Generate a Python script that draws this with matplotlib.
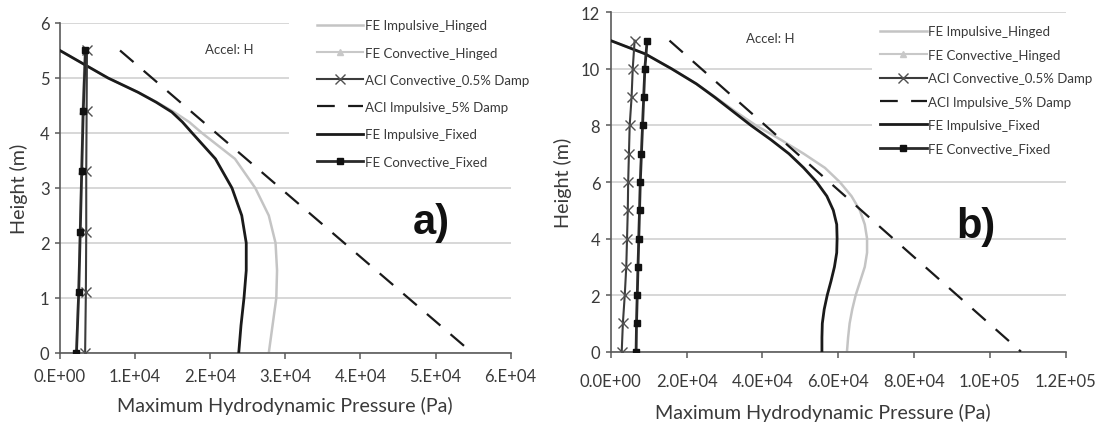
import matplotlib
matplotlib.use("Agg")
import matplotlib.pyplot as plt
from matplotlib.patches import Rectangle

plt.rcParams['font.family'] = ['Lato', 'DejaVu Sans']

# ---- panel a), tank height 5.5 m ----
a_h_imp = [5.5, 5.0, 4.74, 4.56, 4.38, 4.2, 4.0, 3.53, 3.0, 2.5, 2.0, 1.5, 1.0, 0.5, 0.0]
a_imp_fixed = [0, 6.4e3, 1.04e4, 1.28e4, 1.49e4, 1.63e4, 1.76e4, 2.07e4, 2.29e4, 2.42e4, 2.48e4, 2.48e4,
               2.45e4, 2.41e4, 2.38e4]
a_imp_hinged = [0, 6.4e3, 1.04e4, 1.29e4, 1.52e4, 1.72e4, 1.89e4, 2.33e4, 2.60e4, 2.78e4, 2.87e4, 2.89e4,
                2.88e4, 2.83e4, 2.78e4]
a_h_aci_imp = [5.5, 0.0]
a_aci_imp = [8.0e3, 5.49e4]
a_h_conv = [5.5, 4.4, 3.3, 2.2, 1.1, 0.0]
a_aci_conv = [3.6e3, 3.55e3, 3.5e3, 3.5e3, 3.45e3, 3.35e3]
a_conv_fixed = [3.4e3, 3.1e3, 2.9e3, 2.7e3, 2.5e3, 2.2e3]
a_conv_hinged = [3.3e3, 3.0e3, 2.85e3, 2.65e3, 2.45e3, 2.15e3]
a_xticks = [0, 1e4, 2e4, 3e4, 4e4, 5e4, 6e4]
a_xlabels = ["0.E+00", "1.E+04", "2.E+04", "3.E+04", "4.E+04", "5.E+04", "6.E+04"]
a_yticks = [0, 1, 2, 3, 4, 5, 6]

# ---- panel b), tank height 11 m ----
b_h_imp = [11, 10.53, 10, 9.47, 9, 8.5, 8, 7.5, 7, 6.5, 6, 5.5, 5, 4.5, 4,
           3.5, 3, 2.5, 2, 1.5, 1, 0.5, 0]
b_imp_fixed = [0, 9.1e3, 1.61e4, 2.26e4, 2.74e4, 3.22e4, 3.70e4, 4.22e4, 4.70e4, 5.09e4, 5.43e4, 5.70e4,
               5.87e4, 5.96e4, 5.97e4, 5.96e4, 5.90e4, 5.81e4, 5.71e4, 5.63e4, 5.58e4, 5.57e4, 5.57e4]
b_imp_hinged = [0, 9.1e3, 1.61e4, 2.26e4, 2.76e4, 3.28e4, 3.83e4, 4.48e4, 5.09e4, 5.65e4, 6.04e4, 6.35e4,
                6.57e4, 6.70e4, 6.76e4, 6.76e4, 6.70e4, 6.58e4, 6.46e4, 6.37e4, 6.30e4, 6.26e4, 6.23e4]
b_h_aci_imp = [11, 0]
b_aci_imp = [1.55e4, 1.082e5]
b_h_conv = [11, 10, 9, 8, 7, 6, 5, 4, 3, 2, 1, 0]
b_aci_conv = [6.3e3, 5.8e3, 5.5e3, 5.0e3, 4.8e3, 4.6e3, 4.5e3, 4.3e3, 4.1e3, 3.7e3, 3.2e3, 2.9e3]
b_conv_fixed = [9.6e3, 9.0e3, 8.7e3, 8.4e3, 8.1e3, 7.8e3, 7.6e3, 7.4e3, 7.2e3, 7.0e3, 6.8e3, 6.7e3]
b_conv_hinged = [9.5e3, 8.9e3, 8.6e3, 8.3e3, 8.0e3, 7.7e3, 7.5e3, 7.3e3, 7.1e3, 6.9e3, 6.7e3, 6.6e3]
b_xticks = [0, 2e4, 4e4, 6e4, 8e4, 1e5, 1.2e5]
b_xlabels = ["0.0E+00", "2.0E+04", "4.0E+04", "6.0E+04", "8.0E+04", "1.0E+05", "1.2E+05"]
b_yticks = [0, 2, 4, 6, 8, 10, 12]

labels = ["FE Impulsive_Hinged", "FE Convective_Hinged", "ACI Convective_0.5% Damp",
          "ACI Impulsive_5% Damp", "FE Impulsive_Fixed", "FE Convective_Fixed"]

txt = "#3a3a3a"
spine = "#5a5a5a"

fig = plt.figure(figsize=(11.02, 4.27), dpi=100)
ax1 = fig.add_axes([0.0544, 0.1710, 0.409, 0.7728])
ax2 = fig.add_axes([0.5542, 0.1740, 0.4129, 0.7948])


def draw(ax, d, xlim, ylim, xticks, xlabels, yticks, xpad):
    (h_imp, imp_h, imp_f, h_aci, aci_imp, h_conv, conv_h, aci_conv, conv_f) = d
    ax.plot(imp_h, h_imp, color="#c4c4c4", lw=1.8, zorder=2, label=labels[0])
    ax.plot(conv_h, h_conv, color="#c8c8c8", lw=1.5, marker="^", ms=5,
            mfc="#c8c8c8", mec="#c8c8c8", zorder=2, label=labels[1])
    ax.plot(aci_conv, h_conv, color="#3c3c3c", lw=1.5, marker="x", ms=7,
            mew=1.0, mec="#505050", zorder=4, label=labels[2])
    ax.plot(aci_imp, h_aci, color="#1a1a1a", lw=1.6, dashes=(8, 6), zorder=3, label=labels[3])
    ax.plot(imp_f, h_imp, color="#1a1a1a", lw=2.0, zorder=3, label=labels[4])
    ax.plot(conv_f, h_conv, color="#2a2a2a", lw=2.0, marker="s", ms=5,
            mfc="#111111", mec="#111111", zorder=5, label=labels[5])

    ax.set_xlim(*xlim)
    ax.set_ylim(*ylim)
    ax.set_xticks(xticks)
    ax.set_xticklabels(xlabels)
    ax.set_yticks(yticks)
    ax.set_axisbelow(True)
    ax.grid(axis="y", color="#d4d4d4", lw=1.3)
    for s in ["top", "right"]:
        ax.spines[s].set_visible(False)
    for s in ["left", "bottom"]:
        ax.spines[s].set_color(spine)
        ax.spines[s].set_linewidth(1.2)
    ax.tick_params(axis="x", direction="out", length=4.5, width=1.1, color=spine,
                   labelsize=12, labelcolor=txt, pad=xpad)
    ax.tick_params(axis="y", direction="out", length=3.5, width=1.1, color=spine,
                   labelsize=12, labelcolor=txt, pad=4)
    ax.set_xlabel("Maximum Hydrodynamic Pressure (Pa)", fontsize=14.2, color=txt)
    ax.set_ylabel("Height (m)", fontsize=14.2, color=txt)


draw(ax1, (a_h_imp, a_imp_hinged, a_imp_fixed, a_h_aci_imp, a_aci_imp,
           a_h_conv, a_conv_hinged, a_aci_conv, a_conv_fixed),
     (0, 6e4), (0, 6), a_xticks, a_xlabels, a_yticks, 6.5)
draw(ax2, (b_h_imp, b_imp_hinged, b_imp_fixed, b_h_aci_imp, b_aci_imp,
           b_h_conv, b_conv_hinged, b_aci_conv, b_conv_fixed),
     (0, 1.2e5), (0, 12), b_xticks, b_xlabels, b_yticks, 11)

ax1.xaxis.set_label_coords(0.5, -0.13)
ax2.xaxis.set_label_coords(0.467, -0.151)
ax1.yaxis.set_label_coords(-0.071, 0.5)
ax2.yaxis.set_label_coords(-0.085, 0.5)

# white background behind the legends (hides the grid lines there)
ax1.add_patch(Rectangle((0.508, 0.542), 0.6, 0.5, transform=ax1.transAxes,
                        facecolor="white", edgecolor="none", zorder=1, clip_on=False))
ax2.add_patch(Rectangle((0.574, 0.553), 0.6, 0.439, transform=ax2.transAxes,
                        facecolor="white", edgecolor="none", zorder=1, clip_on=False))

ax1.legend(loc="upper left", bbox_to_anchor=(0.2877, 0.952), bbox_transform=fig.transFigure,
           frameon=False, fontsize=9.5, labelcolor=txt, handlelength=3.5, handletextpad=0.1,
           labelspacing=1.15, borderpad=0, borderaxespad=0)
ax2.legend(loc="upper left", bbox_to_anchor=(0.7985, 0.938), bbox_transform=fig.transFigure,
           frameon=False, fontsize=9.5, labelcolor=txt, handlelength=3.55, handletextpad=0.1,
           labelspacing=0.86, borderpad=0, borderaxespad=0)

ax1.text(2.25e4, 5.53, "Accel: H", fontsize=9.5, color=txt, ha="center", va="center")
ax2.text(4.2e4, 11.09, "Accel: H", fontsize=9.5, color=txt, ha="center", va="center")
ax1.text(4.94e4, 2.38, "a)", fontsize=30, fontweight="bold", family="Liberation Sans",
         color="#111111", ha="center", va="center")
ax2.text(9.63e4, 4.44, "b)", fontsize=30, fontweight="bold", family="Liberation Sans",
         color="#111111", ha="center", va="center")

fig.savefig("out.png", dpi=100)
